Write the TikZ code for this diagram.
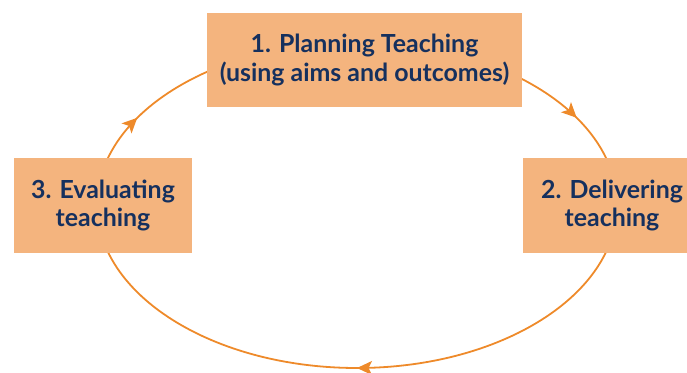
\documentclass[tikz,border=0pt]{standalone}
\usepackage{fontspec}
\setmainfont{Lato}
\usetikzlibrary{arrows.meta,decorations.markings}
\definecolor{boxfill}{HTML}{F4B47E}
\definecolor{navytext}{HTML}{15305E}
\definecolor{cycleorange}{HTML}{EE8A2A}
\tikzset{
    stagebox/.style={fill=boxfill, text=navytext, font=\fontsize{24.9}{28.5}\selectfont\bfseries, align=center, inner sep=0pt},
    cycleline/.style={color=cycleorange, line width=1.8pt},
    midarrow/.style={postaction={decorate}, decoration={markings, mark=at position #1 with {\arrow{Stealth[length=15pt,width=14pt,inset=3.5pt]}}}}
}
\begin{document}
\begin{tikzpicture}[x=1pt,y=1pt]
    \useasboundingbox (0,0) rectangle (687,372);
    \clip (0,0) rectangle (687,372);

    % Cycle
    \coordinate (hub) at (357,167);
    \foreach \from/\to/\pos in {90/0/0.707, 0/-180/0.5, 180/90/0.293} {
        \draw[cycleline, midarrow=\pos] ([shift={(\from:260 and 163)}]hub) arc[start angle=\from, end angle=\to, x radius=260, y radius=163];
    }

    % Stages
    \node[stagebox, minimum width=315, minimum height=94] (plan) at (364.5,312) {1. Planning Teaching\\(using aims and outcomes)};
    \node[stagebox, minimum width=178, minimum height=95] (deliver) at (612,166.5) {2. Delivering\\teaching};
    \node[stagebox, minimum width=178, minimum height=95] (evaluate) at (103,166.5) {3. Evaluating\\teaching};
\end{tikzpicture}
\end{document}
